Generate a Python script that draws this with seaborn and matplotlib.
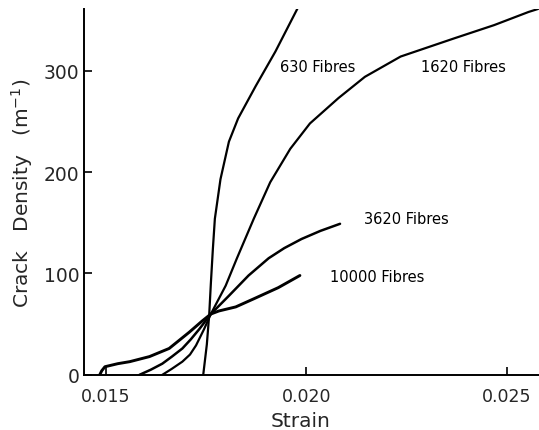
import matplotlib
matplotlib.use("Agg")
import matplotlib.pyplot as plt
import seaborn as sns
import pandas as pd

# Curves (strain, crack density m^-1)
strain_630 = [0.01743, 0.01752, 0.01758, 0.01762, 0.01767, 0.01772, 0.01786, 0.01807, 0.01830, 0.01874, 0.01923, 0.01980]
dens_630 = [0, 30, 60, 90, 124, 154, 193, 230, 253, 285, 319, 363]

strain_1620 = [0.01641, 0.01665, 0.01691, 0.01710, 0.01725, 0.01745, 0.01762, 0.01799, 0.01827, 0.01869,
               0.01910, 0.01960, 0.02009, 0.02080, 0.02146, 0.02235, 0.02369, 0.02468, 0.02554, 0.02578]
dens_1620 = [0, 6, 13, 20, 29, 45, 60, 88, 115, 154, 190, 223, 248, 273, 294, 314, 332, 345, 358, 361]

strain_3620 = [0.01584, 0.01612, 0.01641, 0.01665, 0.01691, 0.01712, 0.01733, 0.01762, 0.01807, 0.01856,
               0.01906, 0.01945, 0.01988, 0.02035, 0.02084]
dens_3620 = [0, 5, 11, 18, 26, 35, 45, 60, 78, 98, 115, 125, 134, 142, 149]

strain_10000 = [0.01485, 0.01490, 0.01498, 0.01530, 0.01560, 0.01609, 0.01658, 0.01708, 0.01740, 0.01762,
                0.01782, 0.01824, 0.01869, 0.01930, 0.01984]
dens_10000 = [0, 4, 8, 11, 13, 18, 26, 42, 53, 60, 63, 67, 75, 86, 98]

labels = ["630 Fibres", "1620 Fibres", "3620 Fibres", "10000 Fibres"]
label_pos_x = [0.01935, 0.02287, 0.02143, 0.02060]
label_pos_y = [304, 304, 154, 97]

x_ticks = [0.015, 0.020, 0.025]
x_tick_labels = ["0.015", "0.020", "0.025"]
y_ticks = [0, 100, 200, 300]

sns.set_style("ticks")
plt.rcParams['font.family'] = ['DejaVu Sans']

fig = plt.figure(figsize=(5.39, 4.31), dpi=100)
ax = fig.add_axes([0.156, 0.128, 0.844, 0.849])

series = [(strain_630, dens_630, 1.6), (strain_1620, dens_1620, 1.6),
          (strain_3620, dens_3620, 1.8), (strain_10000, dens_10000, 2.1)]
for (sx, sy, lw), name in zip(series, labels):
    df = pd.DataFrame({"strain": sx, "density": sy})
    sns.lineplot(data=df, x="strain", y="density", ax=ax, color="black",
                 linewidth=lw, sort=False, estimator=None)

for name, lx, ly in zip(labels, label_pos_x, label_pos_y):
    ax.text(lx, ly, name, fontsize=10.5, ha="left", va="center", color="black")

ax.set_xlim(0.01446, 0.0258)
ax.set_ylim(0, 361)
ax.set_xticks(x_ticks)
ax.set_xticklabels(x_tick_labels)
ax.set_yticks(y_ticks)
ax.tick_params(direction="in", length=6, width=1.2, labelsize=12.5, color="black")
ax.tick_params(axis="x", pad=9)
ax.tick_params(axis="y", labelsize=13.5)
ax.set_xlabel("Strain", fontsize=14.5)
ax.xaxis.set_label_coords(0.475, -0.1)
ax.set_ylabel("Crack   Density   (m$^{-1}$)", fontsize=14.5, labelpad=6)
for s in ["top", "right"]:
    ax.spines[s].set_visible(False)
for s in ["left", "bottom"]:
    ax.spines[s].set_linewidth(1.4)
    ax.spines[s].set_color("black")

fig.savefig("out.png", dpi=100)
